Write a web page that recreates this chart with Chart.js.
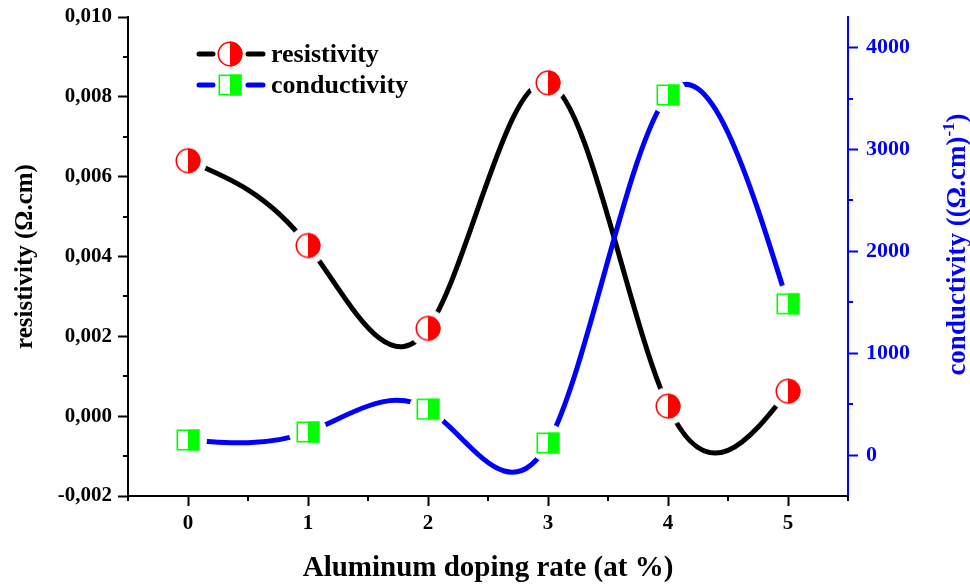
<!DOCTYPE html>
<html>
<head>
<meta charset="utf-8">
<title>Resistivity and conductivity vs Al doping</title>
<script src="https://cdn.jsdelivr.net/npm/chart.js@4.4.1/dist/chart.umd.min.js"></script>
<style>
  html, body { margin: 0; padding: 0; background: #fff; }
</style>
</head>
<body>
<canvas id="chart" width="970" height="586"></canvas>
<script>
"use strict";

const doping = [0, 1, 2, 3, 4, 5];
const resistivity = [0.0064, 0.004275, 0.0022, 0.00835, 0.00025, 0.000625];
const conductivity = [150, 228, 452, 120, 3535, 1486];

// labelled ticks
const rhoTicks = [-0.002, 0, 0.002, 0.004, 0.006, 0.008, 0.01];
const sigmaTicks = [0, 1000, 2000, 3000, 4000];

// minor tick values (no labels)
const xMinor = [-0.5, 0.5, 1.5, 2.5, 3.5, 4.5, 5.5];
const rhoMinor = [-0.001, 0.001, 0.003, 0.005, 0.007, 0.009];
const sigmaMinor = [500, 1500, 2500, 3500];

const SERIF = '"Liberation Serif", "Times New Roman", serif';
const RED = "#ff0000";
const GREEN = "#00ff00";
const BLUE = "#0000ff";

// half filled circle / square, as in the legend
function drawMarker(ctx, kind, x, y) {
    ctx.save();
    ctx.lineWidth = 1.6;
    if (kind === "circle") {
        const r = 12.5;
        ctx.fillStyle = "#fff";
        ctx.beginPath();
        ctx.arc(x, y, r, 0, Math.PI * 2);
        ctx.fill();
        ctx.fillStyle = RED;
        ctx.beginPath();
        ctx.arc(x, y, r, -Math.PI / 2, Math.PI / 2);
        ctx.closePath();
        ctx.fill();
        ctx.strokeStyle = RED;
        ctx.beginPath();
        ctx.arc(x, y, r - 0.8, 0, Math.PI * 2);
        ctx.stroke();
    } else {
        const w = 23, h = 21;
        ctx.fillStyle = "#fff";
        ctx.fillRect(x - w / 2, y - h / 2, w, h);
        ctx.fillStyle = GREEN;
        ctx.fillRect(x, y - h / 2, w / 2, h);
        ctx.strokeStyle = GREEN;
        ctx.strokeRect(x - w / 2 + 0.8, y - h / 2 + 0.8, w - 1.6, h - 1.6);
    }
    ctx.restore();
}

// point image: marker sitting on a white disc so the curve stops short of it
function markerImage(kind) {
    const c = document.createElement("canvas");
    c.width = 40;
    c.height = 40;
    const g = c.getContext("2d");
    g.fillStyle = "#fff";
    g.beginPath();
    g.arc(20, 20, 19, 0, Math.PI * 2);
    g.fill();
    drawMarker(g, kind, 20, 20);
    return c;
}

// natural cubic spline through equally spaced points, as bezier segments
function splinePath(ctx, pts) {
    const n = pts.length;
    const M = new Array(n).fill(0);
    if (n > 2) {
        const c = [], d = [];
        for (let i = 1; i < n - 1; i++) {
            const rhs = 6 * (pts[i + 1].y - 2 * pts[i].y + pts[i - 1].y);
            if (i === 1) {
                c[i] = 1 / 4;
                d[i] = rhs / 4;
            } else {
                const m = 4 - c[i - 1];
                c[i] = 1 / m;
                d[i] = (rhs - d[i - 1]) / m;
            }
        }
        M[n - 2] = d[n - 2];
        for (let i = n - 3; i >= 1; i--) M[i] = d[i] - c[i] * M[i + 1];
    }
    ctx.moveTo(pts[0].x, pts[0].y);
    for (let i = 0; i < n - 1; i++) {
        const a = pts[i], b = pts[i + 1];
        const dy = b.y - a.y;
        const s0 = dy - (2 * M[i] + M[i + 1]) / 6;
        const s1 = dy + (M[i] + 2 * M[i + 1]) / 6;
        const dx = (b.x - a.x) / 3;
        ctx.bezierCurveTo(a.x + dx, a.y + s0 / 3, b.x - dx, b.y - s1 / 3, b.x, b.y);
    }
}

const splineLines = {
    id: "splineLines",
    beforeDatasetsDraw(chart) {
        const { ctx, chartArea } = chart;
        chart.data.datasets.forEach((ds, i) => {
            const pts = chart.getDatasetMeta(i).data.map((p) => ({ x: p.x, y: p.y }));
            ctx.save();
            ctx.beginPath();
            ctx.rect(chartArea.left, chartArea.top, chartArea.width, chartArea.height);
            ctx.clip();
            ctx.beginPath();
            splinePath(ctx, pts);
            ctx.strokeStyle = ds.borderColor;
            ctx.lineWidth = ds.borderWidth;
            ctx.lineCap = "round";
            ctx.stroke();
            ctx.restore();
        });
    },
};

const minorTicks = {
    id: "minorTicks",
    afterDraw(chart) {
        const { ctx, scales } = chart;
        const seg = (x0, y0, x1, y1) => {
            ctx.beginPath();
            ctx.moveTo(x0, y0);
            ctx.lineTo(x1, y1);
            ctx.stroke();
        };
        ctx.save();
        ctx.lineWidth = 2;
        ctx.strokeStyle = "#000";
        xMinor.forEach((v) => {
            const x = Math.round(scales.x.getPixelForValue(v));
            seg(x, scales.x.top, x, scales.x.top + 5);
        });
        rhoMinor.forEach((v) => {
            const y = Math.round(scales.y.getPixelForValue(v));
            seg(scales.y.right - 5, y, scales.y.right, y);
        });
        ctx.strokeStyle = BLUE;
        sigmaMinor.forEach((v) => {
            const y = Math.round(scales.y1.getPixelForValue(v));
            seg(scales.y1.left, y, scales.y1.left + 5, y);
        });
        ctx.restore();
    },
};

// right axis title reads bottom to top and has a superscript
const rightTitle = {
    id: "rightTitle",
    afterDraw(chart) {
        const ctx = chart.ctx;
        const a = chart.chartArea;
        const big = "bold 27px " + SERIF;
        const small = "bold 17px " + SERIF;
        const head = "conductivity ((\u03A9.cm)";
        const sup = "-1";
        const tail = ")";
        ctx.save();
        ctx.font = big;
        const w1 = ctx.measureText(head).width;
        const w3 = ctx.measureText(tail).width;
        ctx.font = small;
        const w2 = ctx.measureText(sup).width;
        ctx.translate(chart.scales.y1.right - 5, (a.top + a.bottom) / 2 - 12);
        ctx.rotate(-Math.PI / 2);
        ctx.fillStyle = BLUE;
        ctx.textBaseline = "alphabetic";
        let x = -(w1 + w2 + w3) / 2;
        ctx.font = big;
        ctx.fillText(head, x, 0);
        x += w1;
        ctx.font = small;
        ctx.fillText(sup, x, -11);
        x += w2;
        ctx.font = big;
        ctx.fillText(tail, x, 0);
        ctx.restore();
    },
};

const legendBox = {
    id: "legendBox",
    afterDraw(chart) {
        const ctx = chart.ctx;
        const rows = [
            { kind: "circle", color: "#000", text: "resistivity", y: 54 },
            { kind: "square", color: BLUE, text: "conductivity", y: 85 },
        ];
        ctx.save();
        ctx.lineWidth = 5;
        ctx.lineCap = "round";
        ctx.font = "bold 26px " + SERIF;
        ctx.fillStyle = "#000";
        rows.forEach((r) => {
            ctx.strokeStyle = r.color;
            ctx.beginPath();
            ctx.moveTo(199, r.y);
            ctx.lineTo(213, r.y);
            ctx.moveTo(248, r.y);
            ctx.lineTo(263, r.y);
            ctx.stroke();
            drawMarker(ctx, r.kind, 230, r.y);
            ctx.fillText(r.text, 271, r.y + 8);
        });
        ctx.restore();
    },
};

const tickFont = (size) => ({ family: SERIF, size: size, weight: "bold" });

// fixed axis box: no extra room for half labels at the ends
const fixBox = (size) => (scale) => {
    if (scale.isHorizontal()) scale.height = size;
    else scale.width = size;
    scale.paddingTop = 0;
    scale.paddingBottom = 0;
    scale.paddingLeft = 0;
    scale.paddingRight = 0;
};

new Chart(document.getElementById("chart"), {
    type: "line",
    data: {
        datasets: [
            {
                label: "resistivity",
                data: doping.map((x, i) => ({ x: x, y: resistivity[i] })),
                yAxisID: "y",
                showLine: false,
                borderColor: "#000",
                borderWidth: 5,
                pointStyle: markerImage("circle"),
                pointRadius: 12,
            },
            {
                label: "conductivity",
                data: doping.map((x, i) => ({ x: x, y: conductivity[i] })),
                yAxisID: "y1",
                showLine: false,
                borderColor: BLUE,
                borderWidth: 5,
                pointStyle: markerImage("square"),
                pointRadius: 12,
            },
        ],
    },
    options: {
        responsive: false,
        animation: false,
        layout: { padding: { top: 15, left: 0, right: 0, bottom: 0 } },
        scales: {
            x: {
                type: "linear",
                min: -0.5,
                max: 5.5,
                afterBuildTicks: (scale) => {
                    scale.ticks = doping.map((v) => ({ value: v }));
                },
                afterFit: fixBox(90),
                ticks: {
                    font: tickFont(21),
                    color: "#000",
                    padding: 5,
                    maxRotation: 0,
                    callback: (v) => String(v),
                },
                grid: { drawOnChartArea: false, tickLength: 10, tickWidth: 2, tickColor: "#000" },
                border: { color: "#000", width: 2 },
                title: {
                    display: true,
                    text: "Aluminum doping rate (at %)",
                    font: tickFont(29),
                    color: "#000",
                    padding: { top: 0, bottom: 0 },
                },
            },
            y: {
                position: "left",
                min: -0.002,
                max: 0.01,
                afterBuildTicks: (scale) => {
                    scale.ticks = rhoTicks.map((v) => ({ value: v }));
                },
                afterFit: fixBox(128),
                ticks: {
                    font: tickFont(21),
                    color: "#000",
                    padding: 6,
                    callback: (v) => v.toFixed(3).replace(".", ","),
                },
                grid: { drawOnChartArea: false, tickLength: 10, tickWidth: 2, tickColor: "#000" },
                border: { color: "#000", width: 2 },
                title: {
                    display: true,
                    text: "resistivity (\u03A9.cm)",
                    font: tickFont(25),
                    color: "#000",
                    padding: { top: 11, bottom: 0 },
                },
            },
            y1: {
                position: "right",
                min: -400,
                max: 4300,
                afterBuildTicks: (scale) => {
                    scale.ticks = sigmaTicks.map((v) => ({ value: v }));
                },
                afterFit: fixBox(122),
                ticks: {
                    font: tickFont(22),
                    color: BLUE,
                    padding: 8,
                    callback: (v) => String(v),
                },
                grid: { drawOnChartArea: false, tickLength: 10, tickWidth: 2, tickColor: BLUE },
                border: { color: BLUE, width: 2 },
            },
        },
        plugins: {
            legend: { display: false },
            tooltip: { enabled: false },
        },
    },
    plugins: [splineLines, minorTicks, rightTitle, legendBox],
});
</script>
</body>
</html>
